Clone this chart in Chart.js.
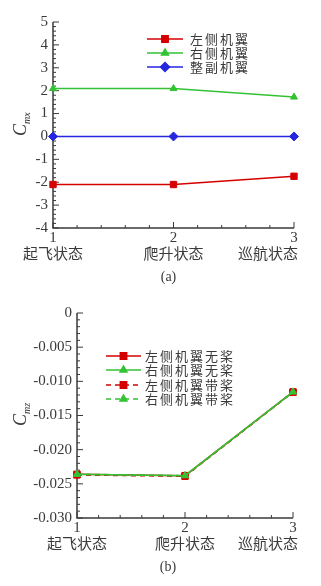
<!DOCTYPE html>
<html>
<head>
<meta charset="utf-8">
<script src="https://cdn.jsdelivr.net/npm/chart.js@4/dist/chart.umd.min.js"></script>
<style>
  html, body { margin: 0; padding: 0; background: #fff; }
  .box { position: absolute; left: 0; width: 321px; }
  #boxA { top: 0; height: 290px; }
  #boxB { top: 290px; height: 296px; }
</style>
</head>
<body>
<div class="box" id="boxA"><canvas id="chartA"></canvas></div>
<div class="box" id="boxB"><canvas id="chartB"></canvas></div>
<script>
const flightStates = ["起飞状态", "爬升状态", "巡航状态"];
const stateIndex = [1, 2, 3];

// (a) C_mx
const leftWing = [-2.1, -2.1, -1.74];
const rightWing = [2.09, 2.09, 1.72];
const wholeWing = [0, 0, 0];

// (b) C_mz
const leftNoProp = [-0.0236, -0.0238, -0.01155];
const rightNoProp = [-0.0236, -0.0238, -0.01155];
const leftProp = [-0.0237, -0.0239, -0.0116];
const rightProp = [-0.0236, -0.0238, -0.01155];

const RED = "#d40000";
const GREEN = "#33c233";
const BLUE = "#2626e0";
const INK = "#3a3a3a";
const SERIF = "'Liberation Serif', 'DejaVu Serif', serif";
const CJK = "'Noto Sans CJK SC', sans-serif";

function pts(ys) {
  return stateIndex.map((x, i) => ({ x: x, y: ys[i] }));
}

// axes with inward major/minor ticks, like the Tecplot figure
const frame = {
  id: "frame",
  beforeDatasetsDraw(chart, args, o) {
    const ctx = chart.ctx, a = chart.chartArea;
    const xs = chart.scales.x, ys = chart.scales.y;
    ctx.save();
    ctx.strokeStyle = INK;
    ctx.lineWidth = 1.5;
    ctx.beginPath();
    ctx.moveTo(a.left, a.top);
    ctx.lineTo(a.left, a.bottom);
    ctx.lineTo(a.right, a.bottom);
    ctx.stroke();
    ctx.lineWidth = 1;
    ctx.beginPath();
    for (let k = 0; k <= o.xSteps; k++) {
      const px = xs.getPixelForValue(xs.min + (xs.max - xs.min) * k / o.xSteps);
      const len = k % o.xPer === 0 ? 6 : 3;
      ctx.moveTo(px, a.bottom);
      ctx.lineTo(px, a.bottom - len);
    }
    for (let k = 0; k <= o.ySteps; k++) {
      const py = ys.getPixelForValue(ys.min + (ys.max - ys.min) * k / o.ySteps);
      const len = k % o.yPer === 0 ? 6 : 3;
      ctx.moveTo(a.left, py);
      ctx.lineTo(a.left + len, py);
    }
    ctx.stroke();
    ctx.restore();
  },
  afterDraw(chart, args, o) {
    const ctx = chart.ctx, a = chart.chartArea;
    const xs = chart.scales.x;
    ctx.save();
    ctx.fillStyle = INK;
    ctx.textBaseline = "middle";
    // x labels: number + state name
    stateIndex.forEach((v, i) => {
      const px = xs.getPixelForValue(v);
      ctx.font = "15px " + SERIF;
      ctx.textAlign = "center";
      ctx.fillText(String(v), px, a.bottom + 10);
      ctx.font = "15px " + CJK;
      const w = ctx.measureText(flightStates[i]).width;
      const cx = Math.min(px, chart.width - 23 - w / 2);
      ctx.fillText(flightStates[i], cx, a.bottom + 25);
    });
    // caption
    ctx.font = "14px " + SERIF;
    ctx.textAlign = "center";
    ctx.fillText(o.caption, (a.left + a.right) / 2 - 5 - (a.left - 53) / 2, a.bottom + 49);
    // y title, rotated
    ctx.save();
    ctx.translate(20, o.titleY);
    ctx.rotate(-Math.PI / 2);
    ctx.textAlign = "left";
    ctx.textBaseline = "alphabetic";
    ctx.font = "italic 18px " + SERIF;
    const cw = ctx.measureText("C").width;
    ctx.fillText("C", -8, 6);
    ctx.font = "italic 10px " + SERIF;
    ctx.fillText(o.sub, -8 + cw, 10);
    ctx.restore();
    // legend
    ctx.textAlign = "left";
    ctx.font = "13px " + CJK;
    ctx.letterSpacing = "2px";
    chart.data.datasets.forEach((ds, i) => {
      const y = o.legend.rows[i];
      ctx.save();
      ctx.strokeStyle = ds.borderColor;
      ctx.lineWidth = 1.5;
      ctx.setLineDash(ds.borderDash || []);
      ctx.beginPath();
      ctx.moveTo(o.legend.x0, y);
      ctx.lineTo(o.legend.x1, y);
      ctx.stroke();
      ctx.setLineDash([]);
      ctx.fillStyle = ds.pointBackgroundColor;
      ctx.strokeStyle = ds.borderColor;
      Chart.helpers.drawPoint(ctx, {
        pointStyle: ds.pointStyle, radius: ds.pointRadius, rotation: 0, borderWidth: 1
      }, (o.legend.x0 + o.legend.x1) / 2, y);
      ctx.restore();
      ctx.fillText(ds.label, o.legend.tx, y);
    });
    ctx.restore();
  }
};

function series(label, data, color, style, radius, dash, order) {
  return {
    label: label,
    data: pts(data),
    borderColor: color,
    backgroundColor: color,
    pointBackgroundColor: color,
    pointBorderColor: color,
    pointStyle: style,
    pointRadius: radius,
    pointBorderWidth: 1,
    borderWidth: 1.5,
    borderDash: dash,
    order: order,
    clip: false
  };
}

function baseOptions(yMin, yMax, yStep, yWidth, pad, fmt, plug) {
  return {
    responsive: true,
    maintainAspectRatio: false,
    animation: false,
    layout: { padding: pad },
    plugins: { legend: { display: false }, tooltip: { enabled: false }, frame: plug },
    scales: {
      x: { type: "linear", min: 1, max: 3, display: false },
      y: {
        min: yMin, max: yMax,
        afterFit: s => { s.width = yWidth; },
        grid: { display: false, drawTicks: false },
        border: { display: false },
        ticks: {
          stepSize: yStep, padding: 5, color: INK,
          font: { size: 15, family: SERIF },
          callback: fmt
        }
      }
    }
  };
}

new Chart(document.getElementById("chartA"), {
  type: "line",
  data: {
    datasets: [
      series("左侧机翼", leftWing, RED, "rect", 4.5, [], 0),
      series("右侧机翼", rightWing, GREEN, "triangle", 4, [], 1),
      series("整副机翼", wholeWing, BLUE, "rectRot", 4.5, [], 2)
    ]
  },
  options: baseOptions(-4, 5, 1, 53, { top: 22, right: 27, bottom: 62, left: 0 },
    v => String(v),
    { xSteps: 10, xPer: 5, ySteps: 45, yPer: 5, caption: "(a)", sub: "mx", titleY: 128,
      legend: { x0: 147, x1: 183, tx: 190, rows: [39, 53, 67] } }),
  plugins: [frame]
});

new Chart(document.getElementById("chartB"), {
  type: "line",
  data: {
    datasets: [
      series("左侧机翼无桨", leftNoProp, RED, "rect", 4.5, [], 2),
      series("右侧机翼无桨", rightNoProp, GREEN, "triangle", 4, [], 0),
      series("左侧机翼带桨", leftProp, RED, "rect", 4.5, [5, 4], 3),
      series("右侧机翼带桨", rightProp, GREEN, "triangle", 4, [5, 4], 1)
    ]
  },
  options: baseOptions(-0.03, 0, 0.005, 77, { top: 23, right: 28, bottom: 68, left: 0 },
    v => Math.abs(v) < 1e-9 ? "0" : v.toFixed(3),
    { xSteps: 10, xPer: 5, ySteps: 30, yPer: 5, caption: "(b)", sub: "mz", titleY: 128,
      legend: { x0: 106, x1: 141, tx: 145, rows: [66, 80, 95, 109] } }),
  plugins: [frame]
});
</script>
</body>
</html>
